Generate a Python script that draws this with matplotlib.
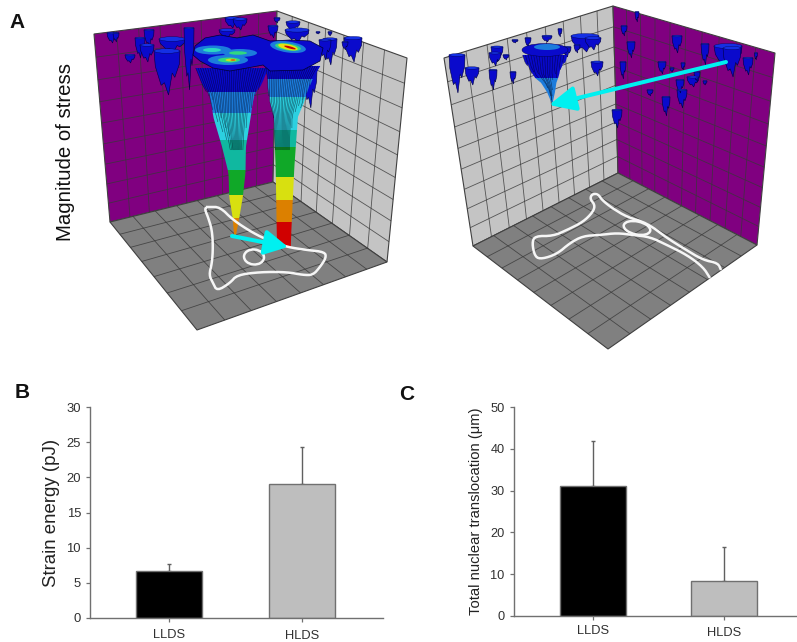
import numpy as np
import matplotlib
matplotlib.use("Agg")
import matplotlib.pyplot as plt
from matplotlib.collections import PolyCollection, LineCollection
from matplotlib.patches import Ellipse, Polygon

plt.rcParams['font.family'] = ['Liberation Sans', 'DejaVu Sans']

# ---------- bar data ----------
groups = ['LLDS', 'HLDS']
strain = [6.7, 19.0]
strain_err = [0.9, 5.35]
transl = [31.1, 8.4]
transl_err = [10.7, 8.2]
bar_colors = ['#000000', '#BEBEBE']

# ---------- panel A data (in picture pixels) ----------
L_purple = [(94, 34), (277, 11), (273, 182), (110, 222)]
L_gray = [(277, 11), (407, 58), (387, 262), (273, 182)]
L_floor = [(110, 222), (273, 182), (387, 262), (197, 330)]
R_gray = [(444, 58), (613, 6), (618, 173), (473, 246)]
R_purple = [(613, 6), (775, 53), (757, 245), (618, 173)]
R_floor = [(473, 246), (618, 173), (757, 245), (608, 349)]

band_colors = ['#0808C8', '#1C7CDC', '#2CD0E0', '#10B8A0', '#10A828',
               '#D8E010', '#DC8000', '#D00000']

f1_y = [68, 93, 117, 147, 173, 197, 217, 236]
f1_c = [232, 232, 232, 234, 237, 236, 236, 235]
f1_hw = [36, 26, 22, 14, 10, 8, 4, 1]
f1_levels = [92, 113, 140, 170, 195, 218, 245, 260]
f1_depth = [92, 96, 110, 100, 122, 112, 132, 118, 140, 128, 150, 136, 178, 160,
            210, 186, 218, 200, 234, 205, 198, 214, 176, 210, 152, 128, 112, 108, 96, 90]

f2_y = [66, 80, 100, 117, 167, 233, 247]
f2_c = [293, 290, 288, 286, 285, 284, 284]
f2_hw = [27, 22, 20, 14, 11, 8.5, 8]
f2_levels = [79, 97, 130, 147, 177, 200, 222, 260]
f2_depth = [96, 118, 172, 250, 251, 251, 250, 251, 251, 251, 251, 251, 251, 250, 251,
            251, 242, 128, 112, 106, 100, 108, 94, 86]

f3_y = [55, 77, 80, 92, 102]
f3_c = [545, 546, 548, 551, 552]
f3_hw = [22, 16, 11, 5, 1]
f3_levels = [78, 120, 130, 140, 150, 160, 170, 180]
f3_depth = [66, 74, 72, 78, 74, 88, 96, 100, 104, 96, 90, 80, 74, 78, 70, 64]

plateau_x = [195, 205, 220, 237, 253, 270, 290, 310, 323, 320, 303, 270, 263, 247, 230, 213, 200, 193]
plateau_y = [46, 38, 35, 38, 35, 41, 40, 41, 48, 61, 70, 71, 65, 68, 71, 68, 61, 55]

L_small_x = [112, 116, 140, 149, 130, 172, 147, 167, 189, 232, 240, 277, 273, 293, 297, 227, 330, 325, 353, 310, 318, 330, 345]
L_small_top = [33, 33, 38, 30, 55, 39, 45, 51, 28, 18, 19, 18, 26, 22, 30, 30, 39, 40, 38, 70, 32, 32, 42]
L_small_hw = [5, 3, 5, 5, 5, 13, 7, 13, 5, 7, 7, 3, 5, 7, 12, 8, 7, 6, 9, 7, 2, 2, 3]
L_small_tip = [43, 42, 58, 47, 63, 52, 62, 95, 90, 28, 30, 23, 38, 31, 42, 38, 65, 60, 62, 108, 34, 36, 50]

R_small_x = [457, 472, 493, 513, 497, 495, 506, 515, 528, 547, 560, 585, 593, 577, 567, 597,
             637, 624, 631, 623, 617, 677, 662, 672, 683, 650, 666, 682, 680, 693, 697, 705, 705,
             728, 732, 748, 756]
R_small_top = [55, 68, 70, 72, 47, 53, 55, 40, 38, 36, 29, 36, 38, 45, 47, 62,
               12, 26, 42, 62, 110, 36, 62, 68, 63, 90, 97, 90, 80, 77, 72, 44, 81,
               46, 48, 58, 53]
R_small_hw = [8, 7, 4, 3, 6, 6, 3, 3, 3, 5, 2, 14, 8, 3, 4, 6,
              2, 3, 4, 3, 5, 5, 4, 2, 2, 3, 4, 5, 4, 6, 3, 4, 2,
              14, 9, 5, 1.5]
R_small_tip = [93, 85, 90, 84, 62, 66, 60, 43, 47, 42, 37, 52, 50, 53, 57, 76,
               22, 36, 58, 79, 128, 53, 74, 72, 70, 96, 116, 108, 93, 87, 82, 65, 85,
               70, 77, 75, 60]

L_cell_x = [206, 209, 220, 233, 253, 270, 287, 307, 325, 326, 320, 313, 303, 287, 260, 237, 230, 217, 213, 209, 212, 213, 212, 208, 205, 206]
L_cell_y = [207, 207, 207, 220, 233, 241, 247, 250, 252, 258, 267, 275, 275, 272, 272, 275, 283, 291, 283, 275, 263, 247, 230, 217, 210, 207]
L_nuc = (254, 257, 20, 15, 5)
R_cell_x = [721, 718, 703, 683, 667, 647, 627, 612, 602, 598, 592, 590, 595, 593, 583, 567, 553, 535, 532, 535, 542, 557, 570, 583, 600, 617, 633, 650, 667, 687, 703, 710]
R_cell_y = [270, 263, 260, 248, 238, 223, 217, 208, 200, 194, 194, 199, 205, 212, 222, 230, 236, 236, 243, 257, 259, 254, 243, 236, 235, 233, 235, 237, 245, 255, 267, 278]
R_nuc = (637, 228, 27, 13, 12)

L_arrow = [(232, 236), (288, 247)]
R_arrow = [(726, 62), (549, 105)]


# ---------- helpers ----------
def homography(quad):
    # maps unit square corners (0,0),(1,0),(1,1),(0,1) to quad
    src = [(0, 0), (1, 0), (1, 1), (0, 1)]
    A, b = [], []
    for (u, v), (x, y) in zip(src, quad):
        A.append([u, v, 1, 0, 0, 0, -u * x, -v * x]); b.append(x)
        A.append([0, 0, 0, u, v, 1, -u * y, -v * y]); b.append(y)
    h = np.linalg.solve(np.array(A, float), np.array(b, float))
    M = np.append(h, 1).reshape(3, 3)
    def f(u, v):
        p = M @ np.array([u, v, 1.0])
        return p[0] / p[2], p[1] / p[2]
    return f


def wall(ax, quad, color, nu, nv):
    ax.add_patch(Polygon(quad, closed=True, fc=color, ec='#404040', lw=0.8, zorder=1))
    f = homography(quad)
    segs = []
    for i in range(1, nu):
        segs.append([f(i / nu, 0), f(i / nu, 1)])
    for j in range(1, nv):
        segs.append([f(0, j / nv), f(1, j / nv)])
    ax.add_collection(LineCollection(segs, colors='#383838', linewidths=0.6, alpha=0.8, zorder=2))


def band_of(levels, y):
    return band_colors[min(int(np.searchsorted(levels, y)), len(band_colors) - 1)]


def funnel(ax, py, pc, phw, levels, depths, z=3, core=0.85, line_to=150):
    # solid core that follows the profile, banded by height
    cuts = [py[0]] + [l for l in levels if py[0] < l < py[-1]] + [py[-1]]
    polys, cols = [], []
    for a, b in zip(cuts[:-1], cuts[1:]):
        ys = np.linspace(a, b, 6)
        c = np.interp(ys, py, pc)
        w = core * np.interp(ys, py, phw)
        polys.append(list(zip(c - w, ys)) + list(zip((c + w)[::-1], ys[::-1])))
        cols.append(band_of(levels, (a + b) / 2))
    ax.add_collection(PolyCollection(polys, facecolors=cols, edgecolors='none', zorder=z))
    # jagged strips that hang from the top edge
    n = len(depths)
    fr = np.linspace(-1, 1, n + 1)
    polys, cols, lines = [], [], []
    for i in np.argsort(depths):
        top, d = py[0], depths[i]
        cuts = [top] + [l for l in levels if top < l < d] + [d]
        fm = (fr[i] + fr[i + 1]) / 2
        def X(y, f):
            t = np.clip((d - y) / max(0.3 * (d - top), 1), 0, 1)
            ff = fm + (f - fm) * 1.25 * t
            return np.interp(y, py, pc) + ff * np.interp(y, py, phw)
        for a, b in zip(cuts[:-1], cuts[1:]):
            ys = np.linspace(a, b, 6)
            polys.append([(X(y, fr[i]), y) for y in ys] + [(X(y, fr[i + 1]), y) for y in ys[::-1]])
            cols.append(band_of(levels, (a + b) / 2))
        ys = np.linspace(top, min(d, line_to), 8)
        lines.append([(X(y, fr[i]), y) for y in ys])
    ax.add_collection(PolyCollection(polys, facecolors=cols, edgecolors='none', zorder=z + 0.1))
    ax.add_collection(LineCollection(lines, colors='#000010', linewidths=0.4, alpha=0.6, zorder=z + 0.2))


def small(ax, xs, tops, hws, tips, z=3.5):
    for x, t, w, d in zip(xs, tops, hws, tips):
        h = d - t
        outline = [(x - w, t), (x + w, t), (x + w * 0.95, t + h * 0.3), (x + w * 0.6, t + h * 0.6),
                   (x + w * 0.4, t + h * 0.5), (x + w * 0.12, t + h), (x - w * 0.2, t + h * 0.72),
                   (x - w * 0.45, t + h * 0.78), (x - w * 0.9, t + h * 0.35)]
        ax.add_patch(Polygon(outline, closed=True, fc='#0A0ACC', ec='#000040', lw=0.4, zorder=z))
        ax.add_patch(Ellipse((x, t), 2 * w, max(w * 0.35, 1.2), fc='#1430E4', ec='#000040', lw=0.25, zorder=z + 0.1))


def smooth(xs, ys, rounds=2):
    # corner cutting, so the outline reads as a soft stroke
    p = np.column_stack([xs, ys]).astype(float)
    for _ in range(rounds):
        q = 0.75 * p[:-1] + 0.25 * p[1:]
        r = 0.25 * p[:-1] + 0.75 * p[1:]
        p = np.vstack([p[0], np.column_stack([q, r]).reshape(-1, 2), p[-1]])
    return p[:, 0], p[:, 1]


def arrow(ax, pts, hl, hw, lw):
    ax.annotate('', xy=pts[1], xytext=pts[0], zorder=8,
                arrowprops=dict(arrowstyle=f'-|>,head_length={hl},head_width={hw}', color='#00F0F0',
                                lw=lw, shrinkA=0, shrinkB=0))


def bars(ax, vals, errs):
    ax.bar([0, 1], vals, width=0.5, color=bar_colors, edgecolor='#707070', linewidth=1.0, zorder=2)
    ax.errorbar([0, 1], vals, yerr=[[0, 0], errs], fmt='none', ecolor='#606060', elinewidth=1.0,
                capsize=1.6, capthick=1.0, zorder=1)
    for s in ('top', 'right'):
        ax.spines[s].set_visible(False)
    for s in ('left', 'bottom'):
        ax.spines[s].set_color('#707070')
        ax.spines[s].set_linewidth(1.0)
    ax.set_xticks([0, 1], groups)
    ax.tick_params(axis='both', color='#707070', labelcolor='#303030', width=0.9, length=3)
    ax.patch.set_alpha(0)


# ---------- figure ----------
W, H = 797, 642
fig = plt.figure(figsize=(W / 100, H / 100), dpi=100, facecolor='white')
ov = fig.add_axes([0, 0, 1, 1])
ov.set_xlim(0, W)
ov.set_ylim(H, 0)
ov.axis('off')

wall(ov, L_purple, '#800080', 9, 9)
wall(ov, L_gray, '#C4C4C4', 7, 9)
wall(ov, L_floor, '#808080', 8, 7)
wall(ov, R_gray, '#C4C4C4', 9, 9)
wall(ov, R_purple, '#800080', 10, 9)
wall(ov, R_floor, '#808080', 8, 8)

small(ov, L_small_x, L_small_top, L_small_hw, L_small_tip)
funnel(ov, f1_y, f1_c, f1_hw, f1_levels, f1_depth, z=4)
funnel(ov, f2_y, f2_c, f2_hw, f2_levels, f2_depth, z=4.5)
ov.add_patch(Polygon(np.column_stack([plateau_x, plateau_y]), closed=True, fc='#0A0ACC', ec='#000030', lw=0.5, zorder=5.5))
for (cx, cy, w, h, ang, col) in [(213, 50, 36, 9, 0, '#1C7CDC'), (240, 53, 34, 8, 0, '#1C7CDC'), (228, 60, 40, 10, 0, '#1C7CDC'),
                                 (212, 50, 18, 4, 0, '#2CD8C0'), (238, 53, 18, 3.5, 0, '#30D880'), (229, 60, 22, 5, 0, '#30D880'),
                                 (231, 60, 11, 2.8, 0, '#C8E020'), (233, 60, 5, 1.5, 0, '#D85010'),
                                 (288, 47, 36, 11, 8, '#1C7CDC'), (288, 47, 26, 7, 8, '#30D880'),
                                 (288, 47, 20, 5.5, 12, '#E8E010'), (290, 47.5, 12, 2.2, 15, '#C80000')]:
    ov.add_patch(Ellipse((cx, cy), w, h, angle=ang, fc=col, ec='none', zorder=6))

small(ov, R_small_x, R_small_top, R_small_hw, R_small_tip)
funnel(ov, f3_y, f3_c, f3_hw, f3_levels, f3_depth, z=4, core=0.8)
ov.add_patch(Ellipse((545, 50), 46, 13, fc='#0A0ACC', ec='#000040', lw=0.3, zorder=6))
ov.add_patch(Ellipse((547, 47), 26, 6, fc='#1C7CDC', ec='none', zorder=6.1))

for cx, cy in [(L_cell_x, L_cell_y), (R_cell_x, R_cell_y)]:
    sx, sy = smooth(cx, cy)
    ov.plot(sx, sy, color='#F6F6F6', lw=1.8, solid_capstyle='butt', solid_joinstyle='round', zorder=7)
for n in (L_nuc, R_nuc):
    ov.add_patch(Ellipse(n[:2], n[2], n[3], angle=n[4], fc='none', ec='#F6F6F6', lw=1.8, zorder=7))

arrow(ov, L_arrow, 1.4, 0.75, 2.9)
arrow(ov, R_arrow, 1.6, 0.75, 2.9)

ov.text(17, 23, 'A', fontsize=15, fontweight='bold', color='#111111', ha='center', va='center')
ov.text(22, 393, 'B', fontsize=15, fontweight='bold', color='#111111', ha='center', va='center')
ov.text(407, 395, 'C', fontsize=15, fontweight='bold', color='#111111', ha='center', va='center')
ov.text(66, 152, 'Magnitude of stress', fontsize=14.7, rotation=90, color='#111111', ha='center', va='center')

# panel B
axB = fig.add_axes([90 / W, (H - 617.7) / H, (383 - 90) / W, (617.7 - 407.3) / H])
bars(axB, strain, strain_err)
axB.set_xlim(-0.594, 1.609)
axB.set_ylim(0, 30)
axB.set_yticks([0, 5, 10, 15, 20, 25, 30])
axB.set_ylabel('Strain energy (pJ)', fontsize=13.4, color='#222222', labelpad=5)
axB.tick_params(axis='y', labelsize=9.4)
axB.tick_params(axis='x', labelsize=9.3, pad=5)
axB.xaxis.get_major_ticks()[1].set_pad(6.2)

# panel C
axC = fig.add_axes([513.7 / W, (H - 615.7) / H, (W - 513.7) / W, (615.7 - 407.3) / H])
bars(axC, transl, transl_err)
axC.set_xlim(-0.602, 1.556)
axC.set_ylim(0, 50)
axC.set_yticks([0, 10, 20, 30, 40, 50])
axC.set_ylabel('Total nuclear translocation (\u03bcm)', fontsize=10.6, color='#222222', labelpad=5)
axC.tick_params(axis='y', labelsize=9.2)
axC.tick_params(axis='x', labelsize=9.3, pad=4)
axC.xaxis.get_major_ticks()[1].set_pad(5)

fig.savefig('out.png', dpi=100, facecolor='white')
